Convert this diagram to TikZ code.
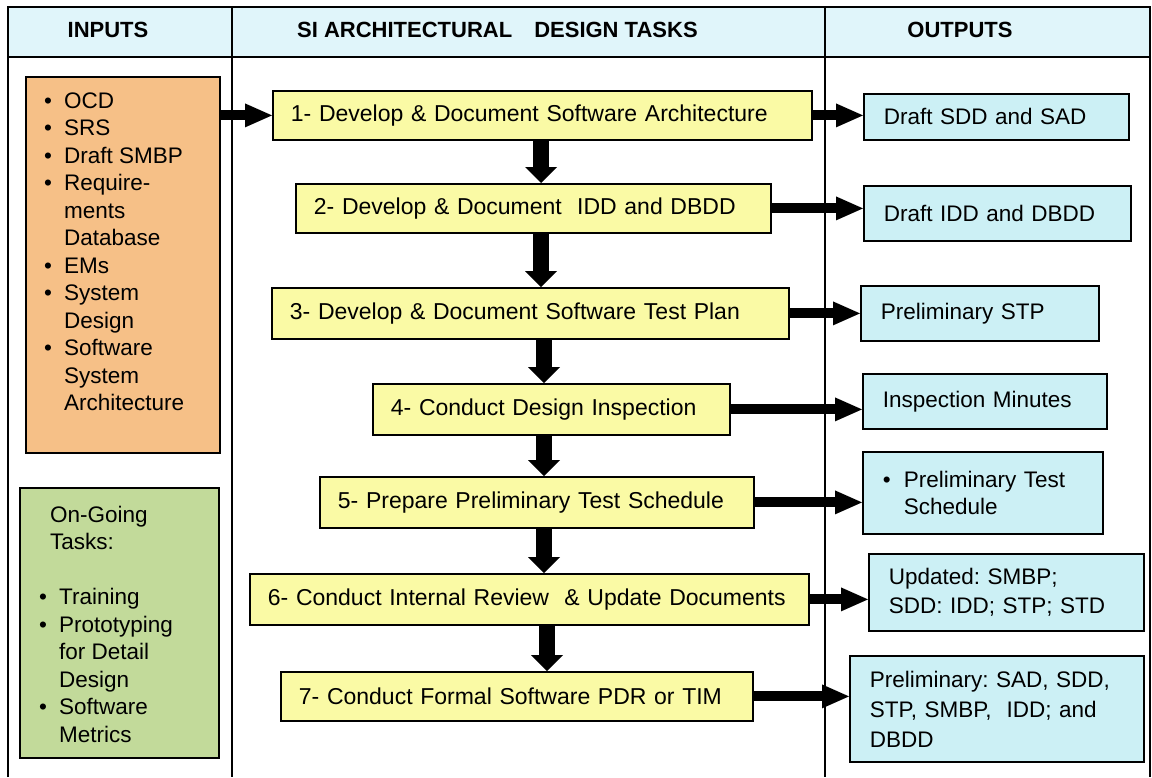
\documentclass[tikz,border=0pt]{standalone}
\usepackage{fontspec}
\setmainfont{Liberation Sans}
\usetikzlibrary{arrows.meta}
\frenchspacing
\definecolor{hdrc}{RGB}{224,245,250}
\definecolor{outc}{RGB}{204,240,245}
\definecolor{taskc}{RGB}{250,250,165}
\definecolor{inc}{RGB}{246,192,135}
\definecolor{ongc}{RGB}{194,218,154}
\tikzset{
  gridline/.style={line width=1.6pt, draw=black},
  hdrtxt/.style={font=\fontsize{22}{26}\selectfont\bfseries, anchor=base, inner sep=0pt},
  taskbox/.style={draw=black, line width=1.8pt, fill=taskc, anchor=north west, align=left,
    inner xsep=18pt, inner ysep=0pt, font=\fontsize{23}{27.5}\selectfont},
  outbox/.style={draw=black, line width=1.8pt, fill=outc, anchor=north west, align=left,
    inner xsep=20pt, inner ysep=0pt, font=\fontsize{22.5}{27.5}\selectfont},
  srcbox/.style={draw=black, line width=1.8pt, anchor=north west, inner sep=0pt},
  listtxt/.style={anchor=base west, inner sep=0pt, font=\fontsize{22.5}{27.5}\selectfont},
  harrow/.style={line width=10pt, -{Triangle[length=27pt,width=24pt,line width=0pt]}},
  varrow/.style={line width=16pt, -{Triangle[length=16pt,width=32pt,line width=0pt]}},
}
\begin{document}
\begin{tikzpicture}[x=1pt,y=-1pt]
\useasboundingbox (0,0) rectangle (1152,777);
% table
\fill[hdrc] (8,7) rectangle (1150,57);
\draw[gridline] (8,777) -- (8,7) -- (1150,7) -- (1150,777);
\draw[gridline] (8,57) -- (1150,57);
\draw[gridline] (232,7) -- (232,777);
\draw[gridline] (825,7) -- (825,777);
\node[hdrtxt] (hin) at (108,37) {INPUTS};
\node[hdrtxt, anchor=base west] (htask) at (297,37) {SI ARCHITECTURAL\hspace{22pt}DESIGN TASKS};
\node[hdrtxt] (hout) at (960,37) {OUTPUTS};
% input boxes
\node[srcbox, fill=inc, minimum width=194pt, minimum height=376pt] (inbox) at (25,76) {};
\node[listtxt] (intext) at (44,108) {\begin{tabular}[t]{@{}p{20pt}@{}l@{}}
\textbullet & OCD\\
\textbullet & SRS\\
\textbullet & Draft SMBP\\
\textbullet & Require-\\
 & ments\\
 & Database\\
\textbullet & EMs\\
\textbullet & System\\
 & Design\\
\textbullet & Software\\
 & System\\
 & Architecture
\end{tabular}};
\node[srcbox, fill=ongc, minimum width=199pt, minimum height=270pt] (ongbox) at (19,487) {};
\node[listtxt] (ongtext) at (39,522) {\begin{tabular}[t]{@{}p{20pt}@{}l@{}}
\multicolumn{2}{@{}l@{}}{\hspace*{11pt}On-Going}\\
\multicolumn{2}{@{}l@{}}{\hspace*{11pt}Tasks:}\\
 & \\
\textbullet & Training\\
\textbullet & Prototyping\\
 & for Detail\\
 & Design\\
\textbullet & Software\\
 & Metrics
\end{tabular}};
% tasks
\node[taskbox, minimum height=49pt, text width=503pt] (t1) at (272,90) {1- Develop \& Document Software Architecture};
\node[taskbox, minimum height=49pt, text width=439pt] (t2) at (295,183) {2- Develop \& Document\ \ IDD and DBDD};
\node[taskbox, minimum height=51pt, text width=481pt] (t3) at (271,287) {3- Develop \& Document Software Test Plan};
\node[taskbox, minimum height=51pt, text width=321pt] (t4) at (372,383) {4- Conduct Design Inspection};
\node[taskbox, minimum height=51pt, text width=398pt] (t5) at (319,476) {5- Prepare Preliminary Test Schedule};
\node[taskbox, minimum height=51pt, text width=523pt] (t6) at (249,573) {6- Conduct Internal Review\ \ \& Update Documents};
\node[taskbox, minimum height=49pt, text width=436pt] (t7) at (280,671) {7- Conduct Formal Software PDR or TIM};
% outputs
\node[outbox, minimum height=46pt, text width=225pt] (o1) at (863,93) {Draft SDD and SAD};
\node[outbox, minimum height=55pt, text width=227pt] (o2) at (863,185) {Draft IDD and DBDD};
\node[outbox, minimum height=55pt, text width=198pt] (o3) at (860,285) {Preliminary STP};
\node[outbox, minimum height=55pt, text width=204pt] (o4) at (862,373) {Inspection Minutes};
\node[outbox, minimum height=82pt, text width=200pt, font=\fontsize{22.5}{27}\selectfont] (o5) at (862,451)
  {\makebox[21pt][l]{\textbullet}Preliminary Test\\\hspace*{21pt}Schedule};
\node[outbox, minimum height=77pt, text width=235pt, font=\fontsize{22.5}{29}\selectfont] (o6) at (868,553)
  {Updated: SMBP;\\SDD: IDD; STP; STD};
\node[outbox, minimum height=106pt, text width=254pt, font=\fontsize{22.5}{30}\selectfont] (o7) at (849,655)
  {Preliminary: SAD, SDD,\\STP, SMBP,\ \ IDD; and\\DBDD};
% arrow columns
\coordinate (va) at (541,0);
\coordinate (vb) at (544,0);
\coordinate (vc) at (547,0);
% connectors
\draw[harrow] (inbox.east |- t1.west) -- (t1.west);
\draw[varrow] (t1.south -| va) -- (t2.north -| va);
\draw[varrow] (t2.south -| va) -- (t3.north -| va);
\draw[varrow] (t3.south -| vb) -- (t4.north -| vb);
\draw[varrow] (t4.south -| vb) -- (t5.north -| vb);
\draw[varrow] (t5.south -| vb) -- (t6.north -| vb);
\draw[varrow] (t6.south -| vc) -- (t7.north -| vc);
\foreach \i in {1,...,7}{
  \draw[harrow] (t\i.east) -- (t\i.east -| o\i.west);
}
\end{tikzpicture}
\end{document}
